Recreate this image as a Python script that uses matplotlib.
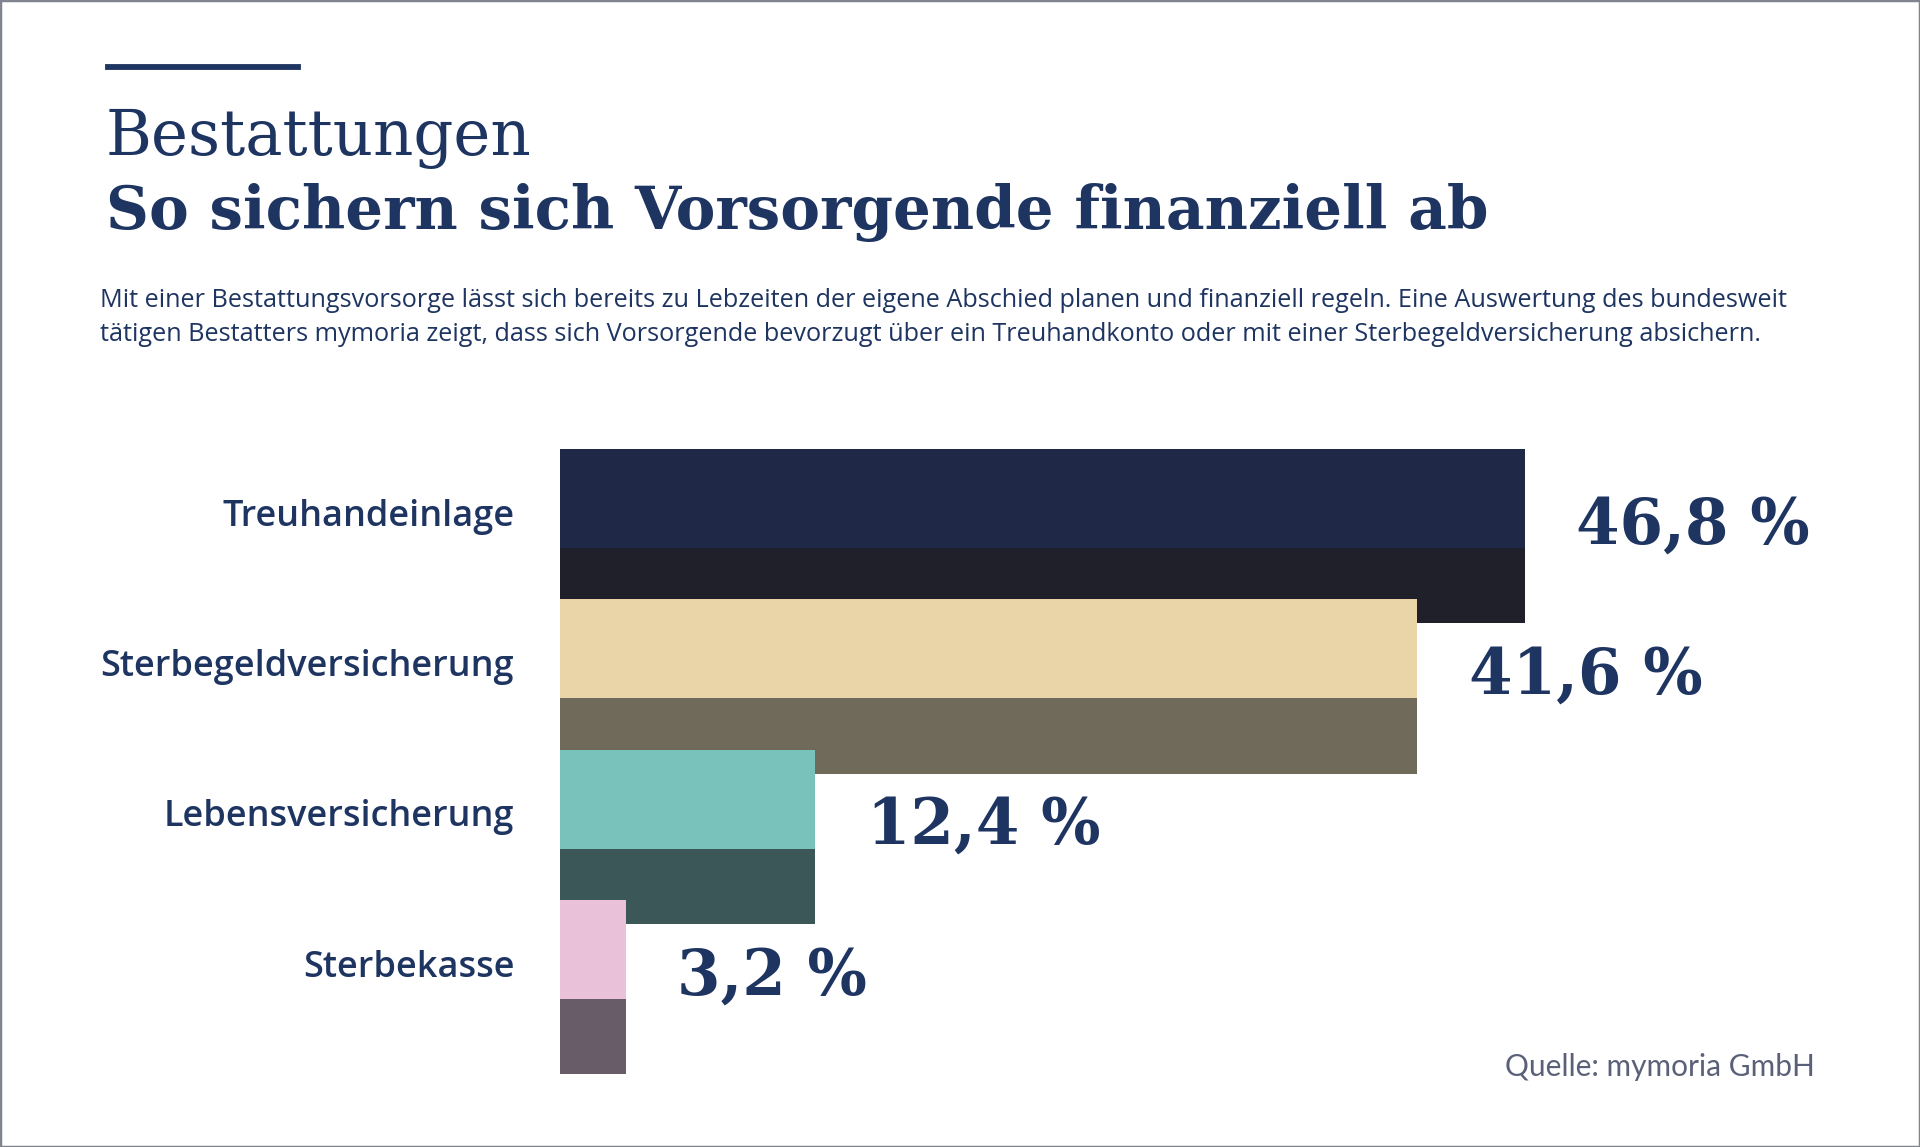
import matplotlib
matplotlib.use("Agg")
import matplotlib.pyplot as plt
from matplotlib.lines import Line2D
from matplotlib.patches import Rectangle

# =============================================
# DATA
# =============================================
kategori = ["Treuhandeinlage", "Sterbegeldversicherung", "Lebensversicherung", "Sterbekasse"]
nilai = [46.8, 41.6, 12.4, 3.2]
label_nilai = ["46,8 %", "41,6 %", "12,4 %", "3,2 %"]
warna_atas = ["#1f2947", "#ead5a9", "#79c2bb", "#e9c1d8"]
warna_bawah = ["#20202b", "#706a5b", "#3b5757", "#675c68"]

NAVY = "#1e3461"
W, H = 1920, 1147

def fx(px):
    return px / W

def fy(py):
    return 1 - py / H

fig = plt.figure(figsize=(W / 100, H / 100), dpi=100)
fig.patch.set_facecolor("white")

# garis hiasan atas + bingkai
fig.add_artist(Line2D([fx(108), fx(298)], [fy(67), fy(67)], color=NAVY, lw=4.2))
fig.add_artist(Rectangle((0, 0), 1, 1, transform=fig.transFigure, fill=False,
                         edgecolor="#80848f", lw=2.5))

# tajuk
fig.text(fx(106), fy(155), "Bestattungen", family="DejaVu Serif", fontsize=45,
         color=NAVY, va="baseline", ha="left")
fig.text(fx(106), fy(229), "So sichern sich Vorsorgende finanziell ab", family="DejaVu Serif",
         fontsize=42.8, fontweight="bold", color=NAVY, va="baseline", ha="left")

sub1 = ("Mit einer Bestattungsvorsorge lässt sich bereits zu Lebzeiten der eigene Abschied planen "
        "und finanziell regeln. Eine Auswertung des bundesweit")
sub2 = ("tätigen Bestatters mymoria zeigt, dass sich Vorsorgende bevorzugt über ein Treuhandkonto "
        "oder mit einer Sterbegeldversicherung absichern.")
fig.text(fx(100), fy(307), sub1, family="Open Sans", fontsize=18.2, color=NAVY, va="baseline")
fig.text(fx(100), fy(341), sub2, family="Open Sans", fontsize=18.2, color=NAVY, va="baseline")

fig.text(fx(1815), fy(1076), "Quelle: mymoria GmbH", family="Lato",
         fontsize=21.5, color="#5a6078", ha="right", va="baseline")

# =============================================
# GRAF BAR
# =============================================
px_per_pct = 20.62
unit = 150.3
x0, y_top, y_bot = 559.6, 449, 1075
ax = fig.add_axes([fx(x0), fy(y_bot), fx(W - x0), (y_bot - y_top) / H])
ax.set_xlim(0, (W - x0) / px_per_pct)
ax.set_ylim((y_bot - y_top) / unit, 0)
ax.axis("off")

h_atas = 0.66
h_bawah = 0.50
for i, (kat, v) in enumerate(zip(kategori, nilai)):
    ax.barh(i + h_atas + h_bawah / 2, v, height=h_bawah, color=warna_bawah[i],
            zorder=2 * i + 1)
    ax.barh(i + h_atas / 2, v, height=h_atas, color=warna_atas[i], zorder=2 * i + 2)
    ax.text(-2.2, i + 0.45, kat, ha="right", va="center", family="Open Sans",
            fontweight="semibold", fontsize=26, color=NAVY, clip_on=False)
    ax.text(v + 2.5, i + 0.51, label_nilai[i], ha="left", va="center",
            family="DejaVu Serif", fontweight="bold", fontsize=45, color=NAVY)

fig.savefig("out.png", dpi=100)
